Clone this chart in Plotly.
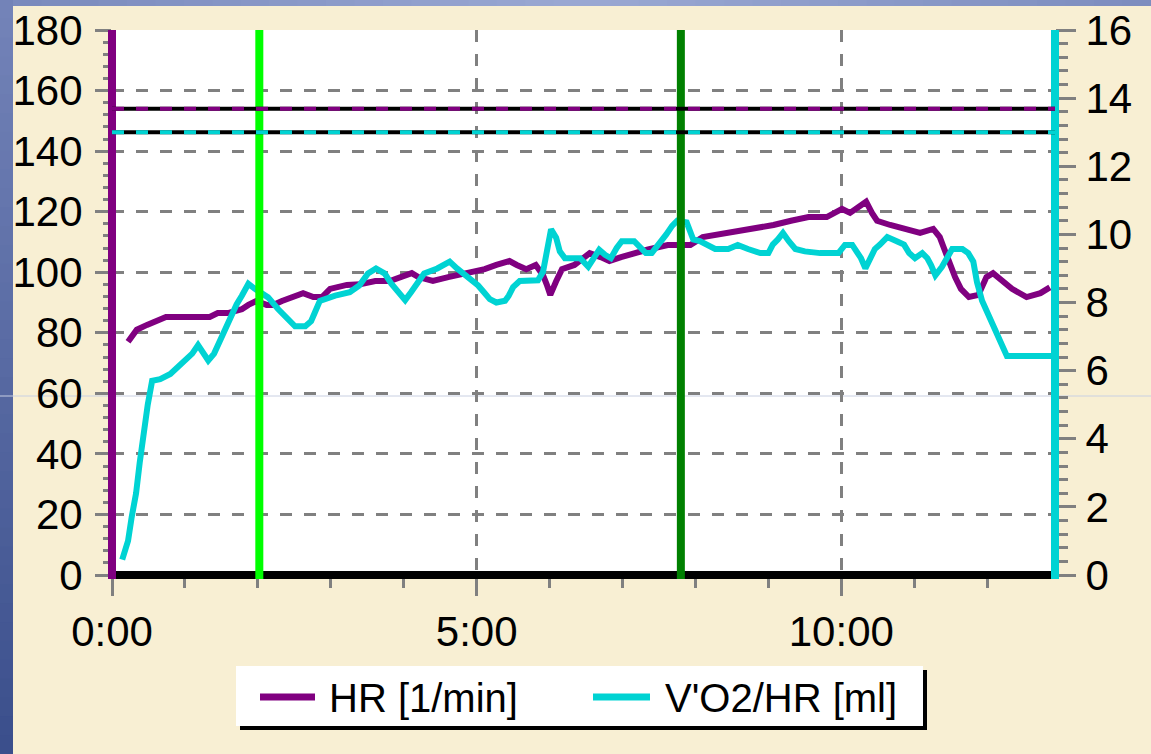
import plotly.graph_objects as go

# ---- data -------------------------------------------------------------
hr_name = "HR [1/min]"
o2_name = "V'O2/HR [ml]"

# heart rate, time in minutes (left axis)
hr_time = [0.22, 0.27, 0.34, 0.48, 0.62, 0.74, 1.34, 1.45, 1.59, 1.78, 1.87, 1.98,
           2.12, 2.21, 2.33, 2.46, 2.62, 2.76, 2.88, 2.99, 3.22, 3.40, 3.61, 3.81,
           3.95, 4.11, 4.20, 4.40, 4.61, 4.86, 5.11, 5.27, 5.45, 5.55, 5.68, 5.81,
           5.91, 5.96, 6.01, 6.09, 6.17, 6.34, 6.50, 6.55, 6.70, 6.82, 6.98, 7.14,
           7.35, 7.62, 7.93, 8.10, 8.45, 8.76, 9.00, 9.07, 9.31, 9.55, 9.80, 9.93,
           10.01, 10.12, 10.26, 10.34, 10.42, 10.49, 10.67, 10.92, 11.08, 11.26,
           11.35, 11.40, 11.50, 11.56, 11.64, 11.75, 11.88, 11.99, 12.08, 12.22,
           12.34, 12.54, 12.73, 12.86]
hr_bpm = [77, 78.6, 81, 82.6, 84, 85.2, 85.2, 86.5, 86.5, 87.8, 89.2, 90.5,
          89.2, 89.2, 90.5, 91.8, 93.1, 91.8, 91.8, 94.5, 95.8, 96, 97.1, 97.1,
          98.4, 99.7, 98.4, 97.1, 98.4, 99.7, 101, 102.4, 103.7, 102.4, 101, 102.4,
          99, 96, 92.5, 97, 101, 102.4, 105, 106.3, 105, 103.7, 105, 106.3,
          107.5, 109, 109, 111.6, 113, 114.3, 115.6, 115.6, 117, 118.2, 118.2, 119.6,
          120.9, 119.6, 122.2, 123.3, 119.6, 117, 115.6, 114.3, 113, 114.3,
          111.6, 108.4, 101.7, 98.4, 94.5, 91.8, 92.5, 98.4, 99.7, 97.1,
          94.5, 91.8, 93.1, 95]

# oxygen pulse, time in minutes (right axis)
o2_time = [0.14, 0.22, 0.27, 0.33, 0.38, 0.44, 0.49, 0.55, 0.66, 0.80, 0.91, 0.99,
           1.10, 1.18, 1.26, 1.32, 1.40, 1.48, 1.56, 1.65, 1.71, 1.78, 1.87, 1.96,
           2.14, 2.28, 2.39, 2.51, 2.65, 2.73, 2.78, 2.85, 3.06, 3.26, 3.39, 3.51,
           3.62, 3.74, 3.83, 3.92, 4.02, 4.10, 4.20, 4.28, 4.46, 4.63, 4.73, 4.85,
           5.02, 5.10, 5.18, 5.27, 5.39, 5.44, 5.50, 5.59, 5.84, 5.91, 5.97, 6.02,
           6.09, 6.14, 6.21, 6.42, 6.53, 6.61, 6.68, 6.76, 6.84, 6.92, 6.99, 7.16,
           7.24, 7.32, 7.40, 7.46, 7.53, 7.60, 7.68, 7.75, 7.88, 7.93, 7.97, 8.06,
           8.19, 8.27, 8.45, 8.58, 8.72, 8.89, 9.00, 9.06, 9.13, 9.20, 9.28, 9.37,
           9.50, 9.71, 9.96, 10.05, 10.15, 10.22, 10.27, 10.33, 10.39, 10.46, 10.53,
           10.63, 10.76, 10.86, 10.93, 11.01, 11.11, 11.18, 11.23, 11.29, 11.38,
           11.45, 11.52, 11.66, 11.74, 11.81, 11.86, 11.93, 12.00, 12.05, 12.11,
           12.16, 12.22, 12.27, 12.89]
o2_pulse = [0.45, 1.0, 1.7, 2.4, 3.3, 4.4, 5.0, 5.7, 5.75, 5.9, 6.1, 6.3,
            6.5, 6.75, 6.5, 6.3, 6.5, 6.9, 7.2, 7.7, 7.95, 8.2, 8.55, 8.4,
            8.15, 7.8, 7.55, 7.3, 7.3, 7.45, 7.7, 8.05, 8.2, 8.3, 8.5, 8.85,
            9.0, 8.85, 8.55, 8.3, 8.07, 8.3, 8.6, 8.85, 9.0, 9.2, 9.0, 8.8,
            8.5, 8.3, 8.1, 8.0, 8.05, 8.2, 8.45, 8.63, 8.65, 8.9, 9.5, 10.15,
            9.9, 9.5, 9.3, 9.3, 9.05, 9.3, 9.55, 9.4, 9.3, 9.6, 9.8, 9.8,
            9.65, 9.45, 9.45, 9.6, 9.8, 10.0, 10.25, 10.4, 10.35, 10.1, 9.85, 9.8,
            9.65, 9.57, 9.57, 9.69, 9.57, 9.45, 9.45, 9.7, 9.85, 10.04, 9.8, 9.57,
            9.5, 9.45, 9.45, 9.69, 9.69, 9.5, 9.3, 9.0, 9.3, 9.57, 9.7,
            9.92, 9.8, 9.7, 9.45, 9.3, 9.45, 9.3, 9.1, 8.8, 9.05,
            9.3, 9.57, 9.57, 9.45, 9.2, 8.6, 8.05, 7.7, 7.45, 7.2,
            6.9, 6.6, 6.43, 6.43]

hr_limit = 154          # HR reference level (left axis)
o2_limit = 13           # V'O2/HR reference level (right axis)
phase_marks = [2.02, 7.80]  # phase change markers, minutes

x_tick_vals = [0, 5, 10]
x_tick_text = ["0:00", "5:00", "10:00"]
x_end = 12.93

# ---- styling ----------------------------------------------------------
PURPLE = "#800080"
CYAN = "#00D3D3"
GRAY = "#808080"
BEIGE = "#F8EFD3"
FONT = "Liberation Sans"

W, H = 1151, 754
L, R, T, B = 112, 96, 30, 179
PW, PH = W - L - R, H - T - B


def px(x):
    """pixel column -> paper x"""
    return (x - L) / PW


def py(y):
    """pixel row (from top) -> paper y"""
    return (H - B - y) / PH


def mix(c1, c2, f):
    a = [int(c1[i:i + 2], 16) for i in (1, 3, 5)]
    b = [int(c2[i:i + 2], 16) for i in (1, 3, 5)]
    return "#%02x%02x%02x" % tuple(round(a[k] + (b[k] - a[k]) * f) for k in range(3))


fig = go.Figure()
fig.add_trace(go.Scatter(x=hr_time, y=hr_bpm, mode="lines", name=hr_name,
                         line=dict(color=PURPLE, width=6), yaxis="y",
                         showlegend=False))
fig.add_trace(go.Scatter(x=o2_time, y=o2_pulse, mode="lines", name=o2_name,
                         line=dict(color=CYAN, width=6), yaxis="y2",
                         showlegend=False))

shapes = []

# blue frame strips of the slide background
n = 40
for i in range(n):
    y0 = i * H / n
    y1 = (i + 1) * H / n + 1
    shapes.append(dict(type="rect", xref="paper", yref="paper", layer="below",
                       x0=px(0), x1=px(13), y0=py(y1), y1=py(y0),
                       line=dict(width=0),
                       fillcolor=mix("#7383b8", "#3b4f8c", i / (n - 1))))
for i in range(n):
    x0 = 13 + i * (W - 13) / n
    x1 = 13 + (i + 1) * (W - 13) / n + 1
    f = i / (n - 1)
    col = mix("#7a8abd", "#9aa8d3", f * 2) if f < 0.5 else mix("#9aa8d3", "#7d8dbf", (f - 0.5) * 2)
    shapes.append(dict(type="rect", xref="paper", yref="paper", layer="below",
                       x0=px(x0), x1=px(x1), y0=py(6), y1=py(0),
                       line=dict(width=0), fillcolor=col))
# faint slide guide line
shapes.append(dict(type="line", xref="paper", yref="paper", layer="below",
                   x0=px(0), x1=px(W), y0=py(396), y1=py(396),
                   line=dict(color="#c9d0e2", width=1)))

# axis frame lines
shapes.append(dict(type="line", xref="paper", yref="paper", layer="above",
                   x0=px(108), x1=1, y0=0, y1=0, line=dict(color="black", width=8)))
shapes.append(dict(type="line", xref="paper", yref="paper", layer="above",
                   x0=0, x1=0, y0=py(579), y1=1, line=dict(color=PURPLE, width=8)))
shapes.append(dict(type="line", xref="paper", yref="paper", layer="above",
                   x0=1, x1=1, y0=py(579), y1=1, line=dict(color=CYAN, width=8)))

# phase markers
for t, col in zip(phase_marks, ["#00FF00", "#008000"]):
    shapes.append(dict(type="line", xref="x", yref="paper", layer="above",
                       x0=t, x1=t, y0=py(579), y1=1, line=dict(color=col, width=8)))

# reference levels: black line with coloured dashes on top
for lvl, yref, col in [(hr_limit, "y", PURPLE), (o2_limit, "y2", CYAN)]:
    shapes.append(dict(type="line", xref="paper", yref=yref, layer="above",
                       x0=0, x1=1, y0=lvl, y1=lvl, line=dict(color="black", width=4)))
    shapes.append(dict(type="line", xref="paper", yref=yref, layer="above",
                       x0=0, x1=1, y0=lvl, y1=lvl,
                       line=dict(color=col, width=4, dash="12px,12px")))

# legend box with drop shadow
shapes.append(dict(type="rect", xref="paper", yref="paper", layer="above",
                   x0=px(240), x1=px(927), y0=py(730), y1=py(670),
                   line=dict(width=0), fillcolor="black"))
shapes.append(dict(type="rect", xref="paper", yref="paper", layer="above",
                   x0=px(236), x1=px(923), y0=py(726), y1=py(666),
                   line=dict(width=0), fillcolor="white"))
legend_items = [(hr_name, PURPLE, 260, 315, 327), (o2_name, CYAN, 593, 650, 663)]
annotations = []
for name, col, s0, s1, tx in legend_items:
    shapes.append(dict(type="line", xref="paper", yref="paper", layer="above",
                       x0=px(s0), x1=px(s1), y0=py(697), y1=py(697),
                       line=dict(color=col, width=7)))
    annotations.append(dict(text=name, xref="paper", yref="paper", showarrow=False,
                            x=px(tx), y=py(698), xanchor="left", yanchor="middle",
                            font=dict(family=FONT, size=40, color="black")))

tick_font = dict(family=FONT, size=42, color="black")

fig.update_layout(
    width=W, height=H,
    margin=dict(l=L, r=R, t=T, b=B, pad=0, autoexpand=False),
    paper_bgcolor=BEIGE,
    plot_bgcolor="white",
    showlegend=False,
    shapes=shapes,
    annotations=annotations,
    xaxis=dict(
        range=[0, x_end], tickmode="array", tickvals=x_tick_vals, ticktext=x_tick_text,
        ticks="outside", ticklen=20, tickwidth=3, tickcolor=GRAY,
        showgrid=True, gridcolor=GRAY, gridwidth=3, griddash="12px,12px",
        minor=dict(dtick=1, tick0=0, ticks="outside", ticklen=12, tickwidth=3,
                   tickcolor=GRAY, showgrid=False),
        showline=False, zeroline=False, tickfont=tick_font, ticklabelstandoff=0,
        automargin=False, fixedrange=True,
    ),
    yaxis=dict(
        range=[0, 180], tick0=0, dtick=20,
        ticks="outside", ticklen=16, tickwidth=3, tickcolor=GRAY,
        showgrid=True, gridcolor=GRAY, gridwidth=3, griddash="12px,12px",
        minor=dict(dtick=4, tick0=0, ticks="outside", ticklen=8, tickwidth=3,
                   tickcolor=GRAY, showgrid=False),
        showline=False, zeroline=False, tickfont=tick_font, ticklabelstandoff=4,
        automargin=False, fixedrange=True,
    ),
    yaxis2=dict(
        range=[0, 16], tick0=0, dtick=2, overlaying="y", side="right",
        ticks="outside", ticklen=20, tickwidth=3, tickcolor=GRAY,
        showgrid=False,
        minor=dict(dtick=0.4, tick0=0, ticks="outside", ticklen=12, tickwidth=3,
                   tickcolor=GRAY, showgrid=False),
        showline=False, zeroline=False, tickfont=tick_font, ticklabelstandoff=1,
        automargin=False, fixedrange=True,
    ),
)

fig.write_html("out.html")
